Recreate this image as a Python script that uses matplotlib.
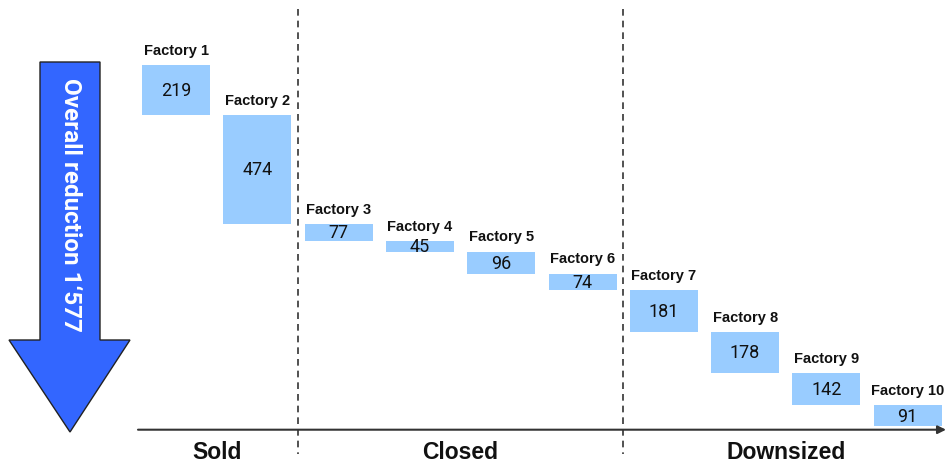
import numpy as np
import matplotlib
matplotlib.use("Agg")
import matplotlib.pyplot as plt
from matplotlib.patches import Polygon

# data
factories = ["Factory 1", "Factory 2", "Factory 3", "Factory 4", "Factory 5",
             "Factory 6", "Factory 7", "Factory 8", "Factory 9", "Factory 10"]
values = [219, 474, 77, 45, 96, 74, 181, 178, 142, 91]
groups = ["Sold", "Closed", "Downsized"]
group_sizes = [2, 4, 4]

W, H = 947, 464
fig = plt.figure(figsize=(W / 100, H / 100), dpi=100)
ax = fig.add_axes([0, 0, 1, 1])
ax.axis("off")

vals = np.array(values)
ends = np.cumsum(vals)
starts = ends - vals
x = np.arange(len(vals))

# pixel layout -> data limits (bar i centre at 176 + 81.3*i px, value 0 at 66 px, total at 427 px)
step = 81.3
ax.set_xlim(-176 / step, (W - 176) / step)
ppu = (427 - 66) / ends[-1]
ax.set_ylim((H - 66) / ppu, -66 / ppu)

bar_col = "#99CCFF"
ax.bar(x, vals, bottom=starts, width=68 / step, color=bar_col, edgecolor="none", zorder=2)

narrow = ["Roboto", "DejaVu Sans"]
bold = ["Liberation Sans", "DejaVu Sans"]
for i in range(len(vals)):
    ax.text(x[i], starts[i] + vals[i] / 2, str(vals[i]), ha="center", va="center",
            fontsize=13, family=narrow, color="#111111", zorder=3)
    ax.annotate(factories[i], (x[i], starts[i]), xytext=(0, 8), textcoords="offset points",
                ha="center", va="baseline", fontsize=10.5, fontweight="bold",
                family=bold, color="#111111")

# group separators and labels
bounds = np.cumsum(group_sizes)
xt = ax.get_xaxis_transform()
for b in bounds[:-1]:
    ax.plot([b - 0.5, b - 0.5], [1 - 10 / H, 1 - 455 / H], transform=xt,
            color="#333333", lw=1.2, ls=(0, (4, 3)), zorder=1)
lo = 0
for g, n in zip(groups, group_sizes):
    ax.text(x[lo:lo + n].mean(), 1 - 459 / H, g, transform=xt, ha="center", va="baseline",
            fontsize=16.5, fontweight="bold", family=bold, color="#111111")
    lo += n

# baseline axis with arrow head
ax.annotate("", xy=(946 / W, 1 - 430.7 / H), xytext=(138 / W, 1 - 430.7 / H),
            xycoords="axes fraction", textcoords="axes fraction",
            arrowprops=dict(arrowstyle="-|>", color="#333333", lw=1.5,
                            mutation_scale=12, shrinkA=0, shrinkB=0))

# big blue arrow on the left
pts = [(40, 63), (100, 63), (100, 341), (130, 341), (70, 433), (9, 341), (40, 341)]
pts = [(px / W, 1 - py / H) for px, py in pts]
ax.add_patch(Polygon(pts, closed=True, transform=ax.transAxes, facecolor="#3366FF",
                     edgecolor="#222222", lw=1.0, zorder=2))
total = "{:,}".format(int(ends[-1])).replace(",", "\u2018")
ax.text(70 / W, 1 - 205 / H, "Overall reduction " + total, transform=ax.transAxes,
        rotation=-90, ha="center", va="center", fontsize=17.5, fontweight="bold",
        family=narrow, color="white", zorder=3)

fig.savefig("out.png", dpi=100)
